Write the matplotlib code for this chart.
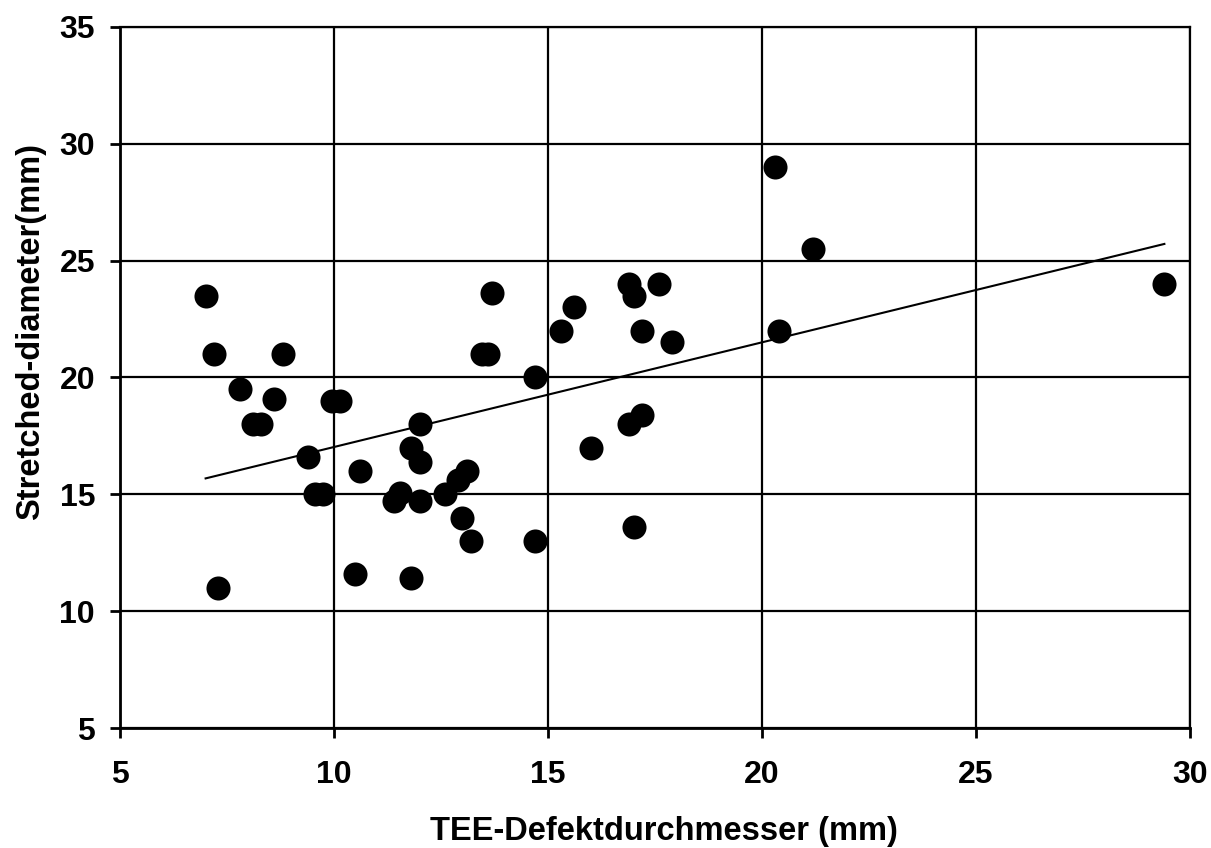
import numpy as np
import matplotlib
matplotlib.use("Agg")
import matplotlib.pyplot as plt

# TEE defect diameter vs. stretched balloon diameter (mm)
tee_diameter = [7.0, 7.2, 7.3, 7.8, 8.1, 8.3, 8.6, 8.8, 9.4, 9.55, 9.75,
                9.95, 10.15, 10.5, 10.6, 11.4, 11.55, 11.8, 11.8, 12.0, 12.0,
                12.0, 12.6, 12.9, 13.1, 13.0, 13.2, 13.45, 13.6, 13.7, 14.7,
                14.7, 15.3, 15.6, 16.0, 16.9, 17.2, 16.9, 17.0, 17.6, 17.2,
                17.9, 17.0, 20.3, 20.4, 21.2, 29.4]
stretched_diameter = [23.5, 21.0, 11.0, 19.5, 18.0, 18.0, 19.1, 21.0, 16.6,
                      15.0, 15.0, 19.0, 19.0, 11.6, 16.0, 14.7, 15.05, 11.4,
                      17.0, 18.0, 16.4, 14.7, 15.0, 15.6, 16.0, 14.0, 13.0,
                      21.0, 21.0, 23.6, 13.0, 20.0, 22.0, 23.0, 17.0, 18.0,
                      18.4, 24.0, 23.5, 24.0, 22.0, 21.5, 13.6, 29.0, 22.0,
                      25.5, 24.0]

x_ticks = [5, 10, 15, 20, 25, 30]
y_ticks = [5, 10, 15, 20, 25, 30, 35]

plt.rcParams["font.family"] = ["Liberation Sans", "DejaVu Sans"]
plt.rcParams["font.weight"] = "bold"

fig = plt.figure(figsize=(12.11, 8.48), dpi=100)
ax = fig.add_axes([0.0991, 0.1415, 0.8836, 0.8267])

x = np.array(tee_diameter)
y = np.array(stretched_diameter)

ax.scatter(x, y, s=300, color="black", zorder=3, linewidths=0)

# least-squares trend line across the data range
slope, intercept = np.polyfit(x, y, 1)
xs = np.array([x.min(), x.max()])
ax.plot(xs, slope * xs + intercept, color="black", lw=1.5, zorder=2)

ax.set_xlim(5, 30)
ax.set_ylim(5, 35)
ax.set_xticks(x_ticks)
ax.set_yticks(y_ticks)
ax.grid(True, color="black", lw=1.6, zorder=0)
ax.set_axisbelow(True)

for side in ["left", "bottom"]:
    ax.spines[side].set_linewidth(2.0)
for side in ["top", "right"]:
    ax.spines[side].set_linewidth(1.6)

ax.tick_params(direction="out", length=7, width=2, labelsize=23,
               colors="black")
ax.tick_params(axis="x", pad=16)
ax.tick_params(axis="y", pad=11)
for lbl in ax.get_xticklabels() + ax.get_yticklabels():
    lbl.set_fontweight("bold")

ax.set_xlabel("TEE-Defektdurchmesser (mm)", fontsize=23.5, fontweight="bold")
ax.set_ylabel("Stretched-diameter(mm)", fontsize=23.5, fontweight="bold")
ax.xaxis.label.set_va("center")
ax.yaxis.label.set_va("center")
ax.xaxis.set_label_coords(0.508, -0.148)
ax.yaxis.set_label_coords(-0.084, 0.565)

fig.savefig("out.png", dpi=100, facecolor="white")
